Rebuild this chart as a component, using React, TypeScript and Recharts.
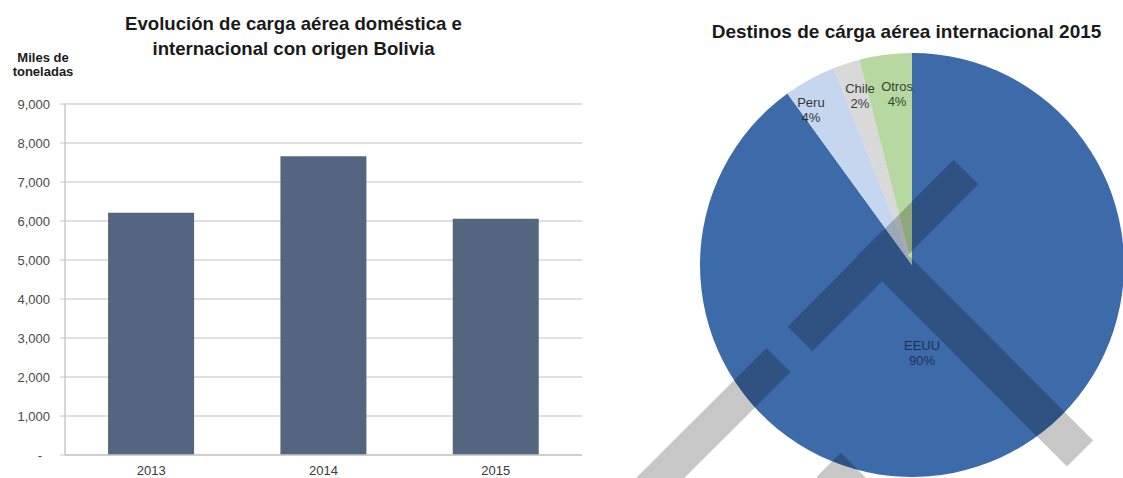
import React from 'react';
import { BarChart, Bar, XAxis, YAxis, CartesianGrid, ReferenceLine, PieChart, Pie, Cell } from 'recharts';

// bar chart: carga aérea (miles de toneladas)
const years = ['2013', '2014', '2015'];
const cargaMilesTon = [6210, 7660, 6060];
const yTicks = [0, 1000, 2000, 3000, 4000, 5000, 6000, 7000, 8000, 9000];

// pie chart: destinos 2015 (%)
const destinos = ['EEUU', 'Peru', 'Chile', 'Otros'];
const destinosPct = [90, 4, 2, 4];
const destinosColors = ['#3d6aa8', '#c6d6ee', '#d9d9d9', '#b7d8a1'];

const FONT = '"Liberation Sans", Arial, sans-serif';
const RADIAN = Math.PI / 180;

// label placement tweaks (radius factor, angle shift, text colour)
const labelStyle: Record<string, { r: number; da: number; color: string }> = {
  EEUU: { r: 0.418, da: -11.5, color: '#1d3158' },
  Peru: { r: 0.873, da: 4.3, color: '#333333' },
  Chile: { r: 0.834, da: -0.9, color: '#3a3a3a' },
  Otros: { r: 0.81, da: -2.2, color: '#34452c' },
};

const barData = years.map((y, i) => ({ year: y, value: cargaMilesTon[i] }));
const pieData = destinos.map((d, i) => ({ name: d, value: destinosPct[i] }));

const YTick = ({ x, y, payload }: any) => (
  <text
    x={payload.value === 0 ? x - 8 : x}
    y={y}
    dy={4.5}
    textAnchor="end"
    fontSize={13}
    fontFamily={FONT}
    fill="#4a4a4a"
  >
    {payload.value === 0 ? '-' : payload.value.toLocaleString('en-US')}
  </text>
);

const PieLabel = (props: any) => {
  const { cx, cy, midAngle, outerRadius, name, value } = props;
  const st = labelStyle[name];
  const a = (midAngle + st.da) * RADIAN;
  const r = outerRadius * st.r;
  const x = cx + r * Math.cos(a);
  const y = cy - r * Math.sin(a);
  return (
    <text x={x} y={y} textAnchor="middle" fontSize={13} fontFamily={FONT} fill={st.color}>
      <tspan x={x} y={y - 3}>{name}</tspan>
      <tspan x={x} y={y + 12}>{value}%</tspan>
    </text>
  );
};

export default function App() {
  return (
    <div style={{ position: 'absolute', left: 0, top: 0, width: 1123, height: 478, background: '#fff', overflow: 'hidden' }}>
      <div style={{ position: 'absolute', left: 0, top: 0 }}>
        <BarChart width={600} height={478} data={barData} margin={{ top: 104, right: 18, bottom: 0, left: 0 }} barCategoryGap="25%">
          <CartesianGrid vertical={false} stroke="#d6d6d6" strokeWidth={1.5} />
          <XAxis
            xAxisId="edges"
            type="number"
            domain={[0, 3]}
            ticks={[0, 1, 2, 3]}
            tick={false}
            axisLine={false}
            tickLine={{ stroke: '#c8c8c8' }}
            tickSize={5}
            height={0}
          />
          <XAxis
            dataKey="year"
            height={23}
            tickLine={false}
            axisLine={{ stroke: '#c8c8c8', strokeWidth: 1.5 }}
            tick={{ fontSize: 13, fill: '#3a3a3a', fontFamily: FONT }}
            tickMargin={5}
          />
          <YAxis
            width={65}
            domain={[0, 9000]}
            ticks={yTicks}
            interval={0}
            axisLine={{ stroke: '#c8c8c8', strokeWidth: 1.5 }}
            tickLine={{ stroke: '#c8c8c8' }}
            tickSize={5}
            tickMargin={10}
            tick={<YTick />}
          />
          <ReferenceLine xAxisId="edges" x={3} stroke="#d6d6d6" strokeWidth={1.5} />
          <Bar dataKey="value" fill="#546580" isAnimationActive={false} />
        </BarChart>
      </div>
      <div style={{ position: 'absolute', left: 600, top: 0 }}>
        <PieChart width={523} height={478}>
          <Pie
            data={pieData}
            dataKey="value"
            nameKey="name"
            cx={307}
            cy={260}
            outerRadius={212}
            startAngle={90}
            endAngle={-270}
            stroke="none"
            labelLine={false}
            label={PieLabel}
            isAnimationActive={false}
          >
            {pieData.map((d, i) => (
              <Cell key={d.name} fill={destinosColors[i]} />
            ))}
          </Pie>
        </PieChart>
      </div>
      <svg width={1123} height={478} style={{ position: 'absolute', left: 0, top: 0, pointerEvents: 'none' }}>
        <g fontFamily={FONT} fontWeight="bold" fill="#1a1a1a" textAnchor="middle">
          <text x={293.5} y={30} fontSize={18.6}>Evolución de carga aérea doméstica e</text>
          <text x={293.5} y={55} fontSize={18.6}>internacional con origen Bolivia</text>
          <text x={43} y={62} fontSize={13}>Miles de</text>
          <text x={43} y={76} fontSize={13}>toneladas</text>
          <text x={906.5} y={38} fontSize={19}>Destinos de cárga aérea internacional 2015</text>
        </g>
        {/* watermark strokes over the pie */}
        <g stroke="#000" opacity={0.215} strokeLinecap="butt">
          <line x1={800} y1={339} x2={966} y2={172} strokeWidth={35} />
          <line x1={870} y1={243} x2={1080} y2={453.5} strokeWidth={37} />
          <line x1={778.5} y1={360} x2={640} y2={498} strokeWidth={34} />
          <line x1={828.7} y1={464.7} x2={900} y2={536} strokeWidth={34} />
        </g>
      </svg>
    </div>
  );
}
